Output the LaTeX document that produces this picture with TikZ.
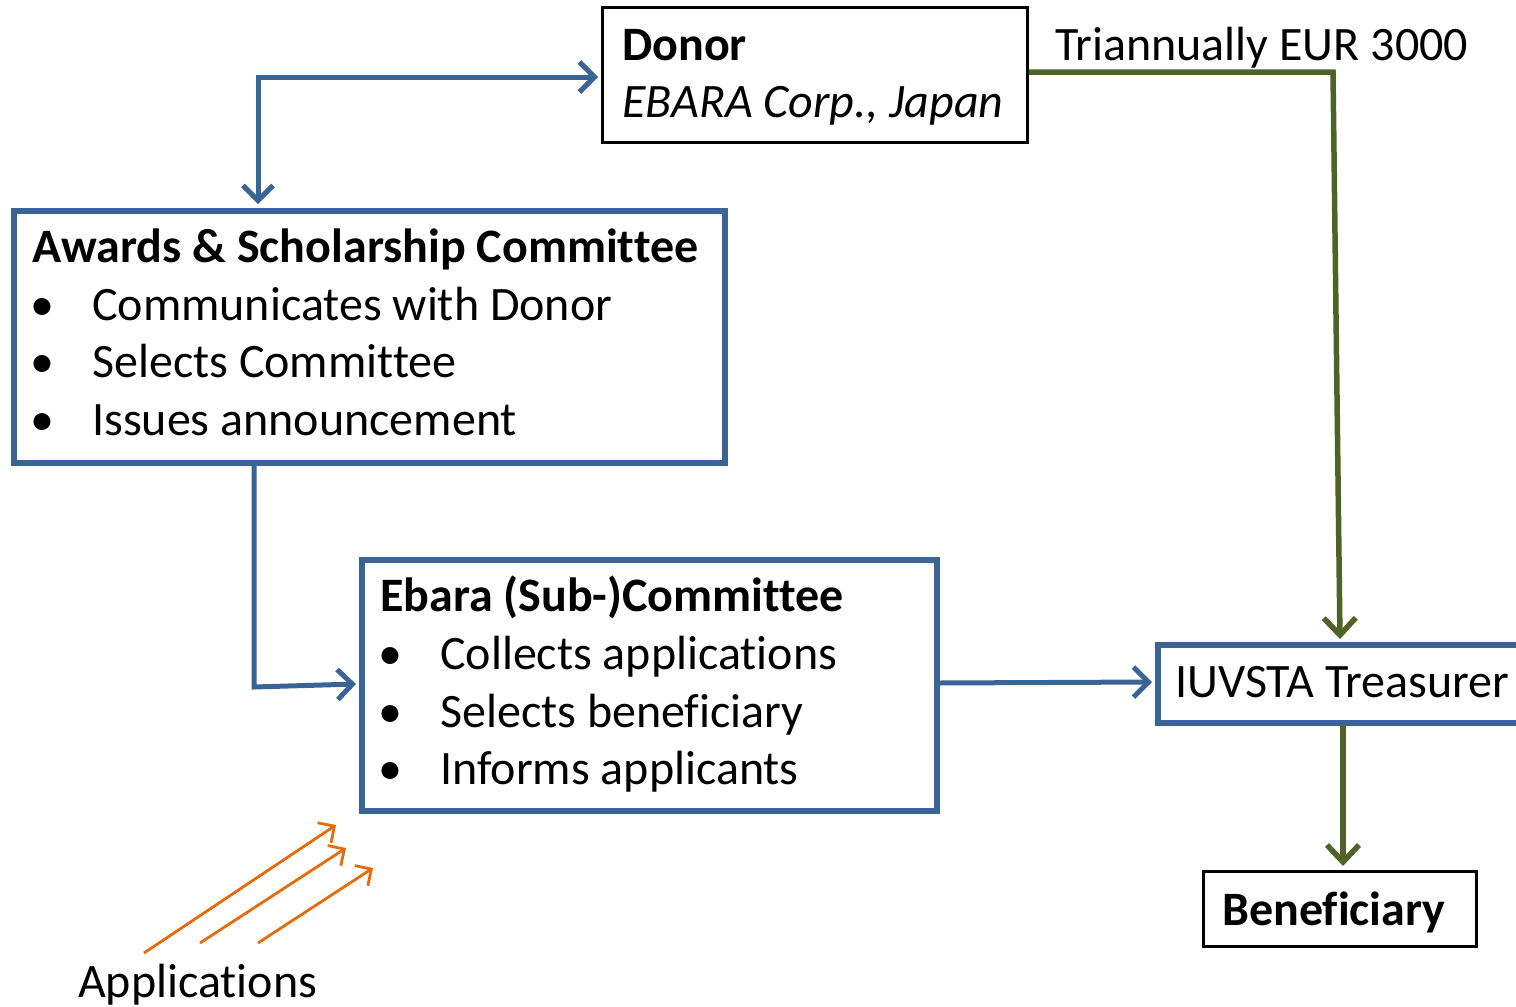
\documentclass[tikz,border=0pt]{standalone}
\usepackage{fontspec}
\setmainfont{Carlito}[Ligatures={NoCommon}]
\usetikzlibrary{arrows.meta}
\definecolor{boxblue}{HTML}{3A6496}
\definecolor{flowgreen}{HTML}{4F6228}
\definecolor{apporange}{HTML}{E46C0A}
\tikzset{
  txt/.style={inner sep=0pt, anchor=base west, font=\fontsize{48}{56}\selectfont},
  bluebox/.style={draw=boxblue, line width=5.5pt, anchor=north west, inner sep=0pt},
  blackbox/.style={draw=black, line width=2.5pt, anchor=north west, inner sep=0pt},
  bluearrow/.style={draw=boxblue, line width=5pt, -{Straight Barb[length=15pt,width=30pt,line width=5pt]}},
  greenarrow/.style={draw=flowgreen, line width=5.5pt, -{Straight Barb[length=17pt,width=32pt,line width=5.5pt]}},
  orangearrow/.style={draw=apporange, line width=2.8pt, -{Straight Barb[length=12pt,width=24pt,line width=2.8pt]}},
}
\begin{document}
\begin{tikzpicture}[x=1pt,y=-1pt]
\useasboundingbox (0,0) rectangle (1516,1007);
\clip (0,0) rectangle (1516,1007);
% boxes
\node[blackbox, minimum width=425pt, minimum height=135pt] (donor) at (601,6) {};
\node[bluebox, minimum width=711pt, minimum height=252pt] (awards) at (11,208) {};
\node[bluebox, minimum width=575pt, minimum height=251pt] (ebara) at (359,557) {};
\node[bluebox, minimum width=380pt, minimum height=78pt] (treas) at (1155,642) {};
\node[blackbox, minimum width=273pt, minimum height=75pt] (benef) at (1202,870) {};
% texts
\node[txt] (donorT) at (622,60) {\bfseries Donor};
\node[txt] (donorS) at (622,117) {\itshape EBARA Corp., Japan};
\node[txt] (trian) at (1055,60) {Triannually EUR 3000};
\node[txt] (awT) at (32,262) {\bfseries Awards \& Scholarship Committee};
\node[txt] (awb1) at (30,320) {•};
\node[txt] (aw1) at (92,320) {Communicates with Donor};
\node[txt] (awb2) at (30,377) {•};
\node[txt] (aw2) at (92,377) {Selects Committee};
\node[txt] (awb3) at (30,435) {•};
\node[txt] (aw3) at (92,435) {Issues announcement};
\node[txt] (ebT) at (380,611) {\bfseries Ebara (Sub-)Committee};
\node[txt] (ebb1) at (378,669) {•};
\node[txt] (eb1) at (440,669) {Collects applications};
\node[txt] (ebb2) at (378,727) {•};
\node[txt] (eb2) at (440,727) {Selects beneficiary};
\node[txt] (ebb3) at (378,784) {•};
\node[txt] (eb3) at (440,784) {Informs applicants};
\node[txt] (trT) at (1175,697) {IUVSTA Treasurer};
\node[txt] (beT) at (1222,925) {\bfseries Beneficiary};
\node[txt] (appT) at (78,997) {Applications};
% connectors
\coordinate (c1) at (258,77);
\draw[bluearrow] (c1) -- (258,204);
\draw[bluearrow] (256,77) -- (598,77);
\coordinate (c2) at (254,687);
\draw[bluearrow] (awards.south -| 254,0) -- (c2) -- (356,684);
\draw[bluearrow] (ebara.east |- 0,683) -- (1152,682);
\coordinate (g1) at (1333,72);
\draw[greenarrow] (donor.east |- 0,72) -- (g1) -- (1340,639);
\draw[greenarrow] (treas.south -| 1343,0) -- (1343,866);
\coordinate (o1s) at (144,953); \coordinate (o1e) at (336,825);
\coordinate (o2s) at (200,943); \coordinate (o2e) at (346,848);
\coordinate (o3s) at (258,943); \coordinate (o3e) at (373,868);
\draw[orangearrow] (o1s) -- (o1e);
\draw[orangearrow] (o2s) -- (o2e);
\draw[orangearrow] (o3s) -- (o3e);
\end{tikzpicture}
\end{document}
